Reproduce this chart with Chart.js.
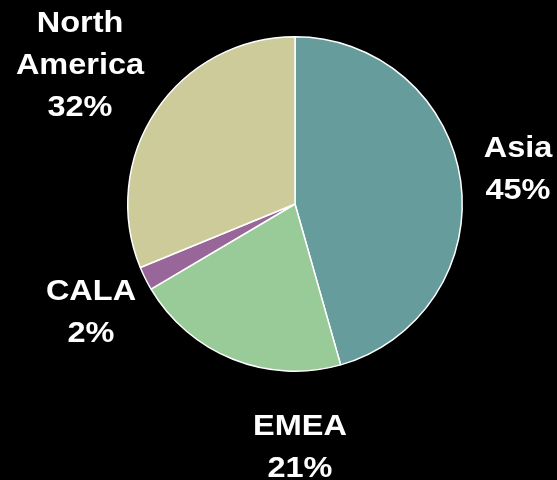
<!DOCTYPE html>
<html>
<head>
<meta charset="utf-8">
<script src="https://cdn.jsdelivr.net/npm/chart.js@4"></script>
<style>
  html, body { margin: 0; padding: 0; background: #000; }
  #wrap { width: 557px; height: 480px; }
</style>
</head>
<body>
<div id="wrap"><canvas id="regionPie"></canvas></div>
<script>
const regions = ['Asia', 'EMEA', 'CALA', 'North America'];
// slice sizes as drawn in the picture; printed labels are the rounded figures
const shares = [45.6, 20.9, 2.3, 31.2];
const shareLabels = ['45%', '21%', '2%', '32%'];
const sliceColors = ['#669C9C', '#99CB99', '#996699', '#CCCB99'];

// text lines per label, and first baseline offset from pie centre
const labelLines = [['Asia'], ['EMEA'], ['CALA'], ['North', 'America']];
const labelAnchors = [[223, -47], [5, 231], [-204, 96], [-215, -172]];

const outsideLabels = {
    id: 'outsideLabels',
    afterDatasetsDraw(chart) {
        const ctx = chart.ctx;
        const arc = chart.getDatasetMeta(0).data[0];
        const cx = arc.x, cy = arc.y;
        ctx.save();
        ctx.fillStyle = '#ffffff';
        ctx.font = "bold 29px 'Liberation Sans', Arial, sans-serif";
        ctx.textAlign = 'center';
        ctx.textBaseline = 'alphabetic';
        labelLines.forEach((lines, i) => {
            const all = lines.concat([shareLabels[i]]);
            all.forEach((txt, j) => {
                ctx.save();
                ctx.translate(cx + labelAnchors[i][0], cy + labelAnchors[i][1] + j * 42);
                ctx.scale(1.12, 1);
                ctx.fillText(txt, 0, 0);
                ctx.restore();
            });
        });
        ctx.restore();
    }
};

const ctx = document.getElementById('regionPie').getContext('2d');
new Chart(ctx, {
    type: 'pie',
    data: {
        labels: regions,
        datasets: [{
            data: shares,
            backgroundColor: sliceColors,
            borderColor: '#ffffff',
            borderWidth: 1.5
        }]
    },
    options: {
        responsive: true,
        maintainAspectRatio: false,
        animation: false,
        layout: {
            padding: { left: 127, right: 94, top: 36, bottom: 108 }
        },
        plugins: {
            legend: { display: false },
            tooltip: { enabled: false }
        }
    },
    plugins: [outsideLabels]
});
</script>
</body>
</html>
